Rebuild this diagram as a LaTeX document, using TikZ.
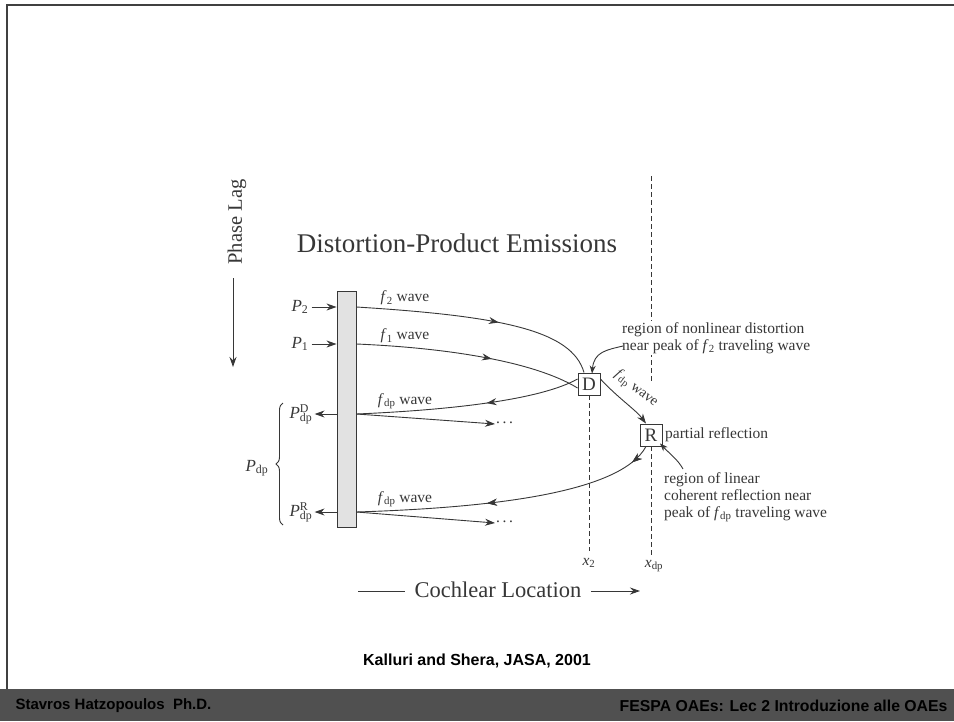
\documentclass[tikz,border=0pt]{standalone}
\usepackage{fontspec}
\setmainfont{Liberation Serif}
\newfontfamily\bsans{Liberation Sans}
\usetikzlibrary{arrows.meta,decorations.markings,decorations.pathreplacing}
\definecolor{ink}{RGB}{55,55,55}
\definecolor{barfill}{RGB}{226,226,226}
\definecolor{footbar}{RGB}{80,80,80}
\newcommand{\fv}[1]{\textit{f}\textsubscript{#1}}
\newcommand{\Pds}[1]{\textit{P}\makebox[0pt][l]{\textsuperscript{#1}}\textsubscript{dp}}
\tikzset{
  wave/.style={draw=ink, line width=0.9pt},
  tipend/.style={-{Stealth[length=10pt,width=7pt]}},
  midarr/.style={postaction={decorate}, decoration={markings, mark=at position #1 with {\arrow{Stealth[length=10pt,width=7pt]}}}},
  lbl/.style={inner sep=1pt, text=ink, font=\fontsize{15.5}{17}\selectfont},
  plbl/.style={inner sep=1pt, text=ink, font=\fontsize{17}{17}\selectfont},
  boxnode/.style={draw=ink, line width=0.9pt, minimum width=22pt, minimum height=22pt, inner sep=0pt, fill=white, text=ink, font=\fontsize{19}{19}\selectfont},
  dashline/.style={draw=ink, line width=1pt, dash pattern=on 5pt off 3pt},
}
\begin{document}
\begin{tikzpicture}[x=1pt,y=-1pt]
\useasboundingbox (0,0) rectangle (954,721);
% frame
\draw[line width=1.6pt, draw=black!75] (7,689) -- (7,5) -- (960,5);
% footer bar
\fill[footbar] (0,689) rectangle (954,721);
\node[anchor=west, font=\bsans\bfseries\fontsize{15}{17}\selectfont] (fl) at (12,706) {Stavros Hatzopoulos\ \ Ph.D.};
\node[anchor=east, font=\bsans\bfseries\fontsize{15.8}{18}\selectfont] (fr) at (951,706) {FESPA OAEs: Lec 2 Introduzione alle OAEs};
\node[font=\bsans\bfseries\fontsize{16}{18}\selectfont] (cite) at (477,661) {Kalluri and Shera, JASA, 2001};

% Phase lag
\node[rotate=90, text=ink, font=\fontsize{20.5}{20.5}\selectfont] (phase) at (237,222) {Phase Lag};
\coordinate (pa1) at (233,278);
\coordinate (pa2) at (233,367);
\draw[wave, tipend] (pa1) -- (pa2);

% title
\node[text=ink, font=\fontsize{27}{27}\selectfont] (title) at (457,243) {Distortion-Product Emissions};

% boxes
\node[boxnode] (D) at (589,384) {D};
\node[boxnode] (R) at (651,435) {R};

% dashed lines
\coordinate (xdpTop) at (651,176);
\coordinate (xdpMid) at (651,383);
\coordinate (xdpBot) at (651,555);
\draw[dashline] (xdpTop) -- (xdpMid);
\draw[dashline] (R.south) -- (xdpBot);
\coordinate (x2Bot) at (589,551);
\draw[dashline] (D.south) -- (x2Bot);
\node[lbl, fill=white] (x2) at (589,563) {\textit{x}\textsubscript{2}};
\node[lbl, fill=white] (xdp) at (654,566) {\textit{x}\textsubscript{dp}};

% bar
\node[draw=ink, fill=barfill, line width=0.9pt, minimum width=19pt, minimum height=236pt, inner sep=0pt] (bar) at (346.5,409) {};

% left labels
\node[plbl] (P2) at (300,307) {\textit{P}\textsubscript{2}};
\node[plbl] (P1) at (300,344) {\textit{P}\textsubscript{1}};
\node[plbl] (PD) at (301,414) {\Pds{D}};
\node[plbl] (PR) at (301,512) {\Pds{R}};
\draw[wave, tipend] ([xshift=2pt]P2.east) -- (bar.west|-P2.east);
\draw[wave, tipend] ([xshift=2pt]P1.east) -- (bar.west|-P1.east);
\draw[wave, tipend] (bar.west|-PD.east) -- ([xshift=1pt]PD.east);
\draw[wave, tipend] (bar.west|-PR.east) -- ([xshift=1pt]PR.east);
% brace
\draw[wave, decorate, decoration={brace, amplitude=7pt}] (283,525) -- (283,403);
\node[plbl] (Pdp) at (257,468) {\textit{P}\textsubscript{dp}};

% waves
\coordinate (b2) at (bar.east|-P2);
\coordinate (b1) at (bar.east|-P1);
\coordinate (bD) at (bar.east|-PD);
\coordinate (bR) at (bar.east|-PR);
\draw[wave, midarr=0.58] (b2) .. controls (500,316) and (572,330) .. ([xshift=-5pt]D.north);
\draw[wave, midarr=0.6] (b1) .. controls (450,348) and (535,362) .. ([yshift=-4pt]D.west);
\draw[wave, midarr=0.42] ([yshift=5pt]D.west) .. controls (540,400) and (450,410) .. (bD);
\coordinate (dots1) at (495,424);
\draw[wave, tipend] (bD) -- (dots1);
\node[lbl, anchor=west] (dd1) at ([yshift=1pt]dots1) {.\,.\,.};
\node[lbl] (w2) at (405,298) {\fv{2} wave};
\node[lbl] (w1) at (405,336) {\fv{1} wave};
\node[lbl] (wd1) at (405,401) {\fv{dp} wave};

% D to R
\draw[wave, tipend] ([yshift=5pt]D.east) .. controls (618,398) and (636,410) .. ([xshift=-5pt]R.north);
\node[lbl, rotate=-38, font=\fontsize{14.5}{16}\selectfont] (wdr) at (636,389) {\fv{dp} wave};

% R to bar
\draw[wave, midarr=0.07, midarr=0.57] ([xshift=-5pt]R.south) .. controls (620,495) and (480,508) .. (bR);
\coordinate (dots2) at (495,523);
\draw[wave, tipend] (bR) -- (dots2);
\node[lbl, anchor=west] (dd2) at ([yshift=1pt]dots2) {.\,.\,.};
\node[lbl] (wd2) at (405,499) {\fv{dp} wave};

% annotations
\node[lbl, anchor=west, fill=white, align=left] (nl) at (621,338) {region of nonlinear distortion\\near peak of \fv{2} traveling wave};
\draw[wave, -{Stealth[length=8pt,width=6pt]}] ([yshift=-8pt,xshift=2pt]nl.west) .. controls (606,350) and (594,352) .. ([xshift=3pt,yshift=-1pt]D.north);
\node[lbl, anchor=west] (pr) at (664,435) {partial reflection};
\node[lbl, anchor=west, align=left] (lin) at (663,497) {region of linear\\coherent reflection near\\peak of \fv{dp} traveling wave};
\draw[wave, -{Stealth[length=8pt,width=6pt]}] (683,469) .. controls (678,460) and (672,456) .. ([xshift=9pt,yshift=3pt]R.south);

% Cochlear location
\node[text=ink, font=\fontsize{22.5}{22.5}\selectfont] (coch) at (498,590) {Cochlear Location};
\coordinate (cl1) at (358,591);
\coordinate (cl2) at (640,591);
\draw[wave] (cl1) -- ([xshift=-6pt]coch.west|-cl1);
\draw[wave, tipend] ([xshift=6pt]coch.east|-cl2) -- (cl2);
\end{tikzpicture}
\end{document}
